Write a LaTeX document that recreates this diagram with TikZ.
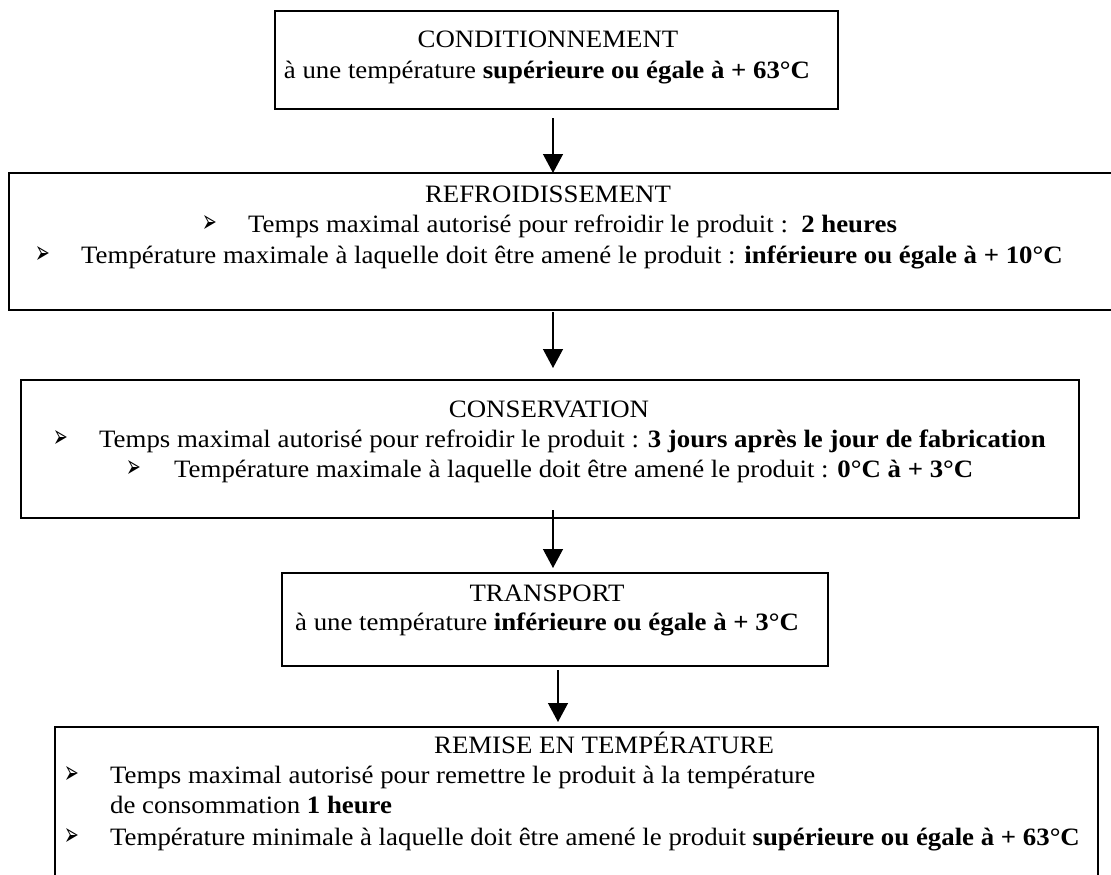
\documentclass[tikz,border=0pt]{standalone}
\usepackage{fontspec}
\usepackage{graphicx}
\setmainfont[FakeStretch=1.073]{Liberation Serif}
\newfontfamily\bulletfont{DejaVu Sans}
\usetikzlibrary{arrows.meta}
\newcommand{\arrowbul}{\scalebox{0.8}[1.45]{➢}}
\begin{document}
\begin{tikzpicture}[x=1pt,y=-1pt,
  box/.style={draw, line width=1.6pt, rectangle, inner sep=0pt, outer sep=0pt},
  txt/.style={inner sep=0pt, font=\fontsize{25}{30}\selectfont, anchor=base west},
  ttl/.style={inner sep=0pt, font=\fontsize{25}{30}\selectfont, anchor=base},
  bul/.style={inner sep=0pt, font=\bulletfont\fontsize{22}{28}\selectfont, anchor=base west},
  arr/.style={line width=1.3pt, -{Triangle[width=20pt,length=19pt]}}]
\useasboundingbox (0,0) rectangle (1111,875);
\fill[white] (0,0) rectangle (1111,875);

% boxes
\node[box, minimum width=563pt, minimum height=98pt]  (b1) at (556.5,60) {};
\node[box, minimum width=1116pt, minimum height=137pt] (b2) at (567,241.5) {};
\node[box, minimum width=1058pt, minimum height=138pt] (b3) at (550,449) {};
\node[box, minimum width=546pt, minimum height=93pt]  (b4) at (555,619.5) {};
\node[box, minimum width=1043pt, minimum height=163pt] (b5) at (576.5,808.5) {};

% box 1
\node[ttl] (t1) at (548,48) {CONDITIONNEMENT};
\node[ttl] (t1a) at (547,78) {à une température \textbf{supérieure ou égale à + 63°C}};

% box 2
\node[ttl] (t2) at (548,202) {REFROIDISSEMENT};
\node[bul] (p21) at (202,232) {\arrowbul};
\node[txt] (t21) at (248,232) {Temps maximal autorisé pour refroidir le produit :\ \ \textbf{2 heures}};
\node[bul] (p22) at (35,263) {\arrowbul};
\node[txt] (t22) at (81,263) {Température maximale à laquelle doit être amené le produit : \textbf{inférieure ou égale à + 10°C}};

% box 3
\node[ttl] (t3) at (549,417) {CONSERVATION};
\node[bul] (p31) at (53,447) {\arrowbul};
\node[txt] (t31) at (99,447) {Temps maximal autorisé pour refroidir le produit : \textbf{3 jours après le jour de fabrication}};
\node[bul] (p32) at (126,477) {\arrowbul};
\node[txt] (t32) at (174,477) {Température maximale à laquelle doit être amené le produit : \textbf{0°C à + 3°C}};

% box 4
\node[ttl] (t4) at (547,601) {TRANSPORT};
\node[ttl] (t4a) at (547,630) {à une température \textbf{inférieure ou égale à + 3°C}};

% box 5
\node[ttl] (t5) at (604,753) {REMISE EN TEMPÉRATURE};
\node[bul] (p51) at (64,783) {\arrowbul};
\node[txt] (t51) at (110,783) {Temps maximal autorisé pour remettre le produit à la température};
\node[txt] (t52) at (110,813) {de consommation \textbf{1 heure}};
\node[bul] (p53) at (64,845) {\arrowbul};
\node[txt] (t53) at (110,845) {Température minimale à laquelle doit être amené le produit \textbf{supérieure ou égale à + 63°C}};

% arrows
\coordinate (c1) at (553,0);
\coordinate (c4) at (558,0);
\draw[arr, shorten <=9pt] (b1.south -| c1) -- (b2.north -| c1);
\draw[arr, shorten <=2pt, shorten >=12pt] (b2.south -| c1) -- (b3.north -| c1);
\draw[arr, shorten <=-8pt, shorten >=5pt] (b3.south -| c1) -- (b4.north -| c1);
\draw[arr, shorten <=4pt, shorten >=5pt] (b4.south -| c4) -- (b5.north -| c4);
\end{tikzpicture}
\end{document}
